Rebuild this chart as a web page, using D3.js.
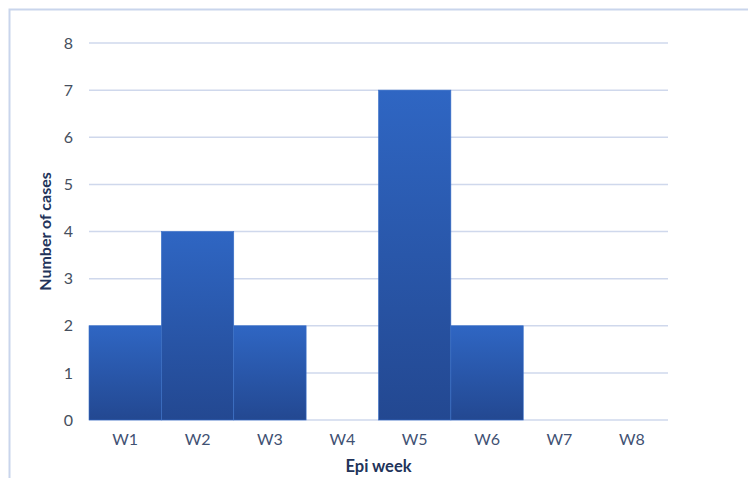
<!DOCTYPE html>
<html>
<head>
<meta charset="utf-8">
<script src="https://cdn.jsdelivr.net/npm/d3@7"></script>
<style>
  body { margin: 0; background: #fff; }
  svg { display: block; }
</style>
</head>
<body>
<svg id="chart" viewBox="0 0 748 478" width="748" height="478"></svg>
<script>
// Data
const weeks = ["W1", "W2", "W3", "W4", "W5", "W6", "W7", "W8"];
const cases = [2, 4, 2, 0, 7, 2, 0, 0];
const yTicks = [0, 1, 2, 3, 4, 5, 6, 7, 8];

const svg = d3.select("#chart");
const font = "Lato, 'Open Sans', sans-serif";

// outer frame (only top and left visible in the crop)
svg.append("rect")
    .attr("x", 9.5).attr("y", 9.5)
    .attr("width", 760).attr("height", 500)
    .attr("fill", "#fff")
    .attr("stroke", "#c9d5ec")
    .attr("stroke-width", 2);

const margin = { left: 89, right: 80, top: 43, bottom: 58 };
const width = 748, height = 478;

const x = d3.scaleBand()
    .domain(weeks)
    .range([margin.left, width - margin.right])
    .padding(0);

const y = d3.scaleLinear()
    .domain([0, 8])
    .range([height - margin.bottom, margin.top]);

// bar gradient
const defs = svg.append("defs");
const grad = defs.append("linearGradient")
    .attr("id", "barGrad")
    .attr("x1", 0).attr("y1", 0).attr("x2", 0).attr("y2", 1);
grad.append("stop").attr("offset", "0%").attr("stop-color", "#2f66c3");
grad.append("stop").attr("offset", "100%").attr("stop-color", "#234891");

// gridlines
svg.append("g")
    .selectAll("line")
    .data(yTicks)
    .enter()
    .append("line")
    .attr("x1", x.range()[0])
    .attr("x2", x.range()[1])
    .attr("y1", d => y(d))
    .attr("y2", d => y(d))
    .attr("stroke", "#cfd8ec")
    .attr("stroke-width", 1.5);

// bars
svg.append("g")
    .selectAll("rect")
    .data(weeks.map((w, i) => ({ week: w, value: cases[i] })))
    .enter()
    .append("rect")
    .attr("x", d => x(d.week))
    .attr("y", d => y(d.value))
    .attr("width", x.bandwidth())
    .attr("height", d => y(0) - y(d.value))
    .attr("fill", "url(#barGrad)")
    .attr("stroke", d => d.value > 0 ? "#3a70c8" : "none")
    .attr("stroke-width", 0.6);

// y tick labels
const yAxis = d3.axisLeft(y).tickValues(yTicks).tickSize(0).tickPadding(16);
const gy = svg.append("g")
    .attr("transform", `translate(${margin.left},0)`)
    .call(yAxis);
gy.select(".domain").remove();
gy.selectAll("text")
    .attr("font-family", font)
    .attr("font-size", 16)
    .attr("fill", "#464f5e");

// x tick labels
const xAxis = d3.axisBottom(x).tickSize(0).tickPadding(14);
const gx = svg.append("g")
    .attr("transform", `translate(0,${y(0)})`)
    .call(xAxis);
gx.select(".domain").remove();
gx.selectAll("text")
    .attr("font-family", font)
    .attr("font-size", 16)
    .attr("fill", "#3f5173");

// axis titles
svg.append("text")
    .attr("x", (x.range()[0] + x.range()[1]) / 2)
    .attr("y", 472)
    .attr("text-anchor", "middle")
    .attr("font-family", font)
    .attr("font-size", 16.5)
    .attr("font-weight", "bold")
    .attr("fill", "#22335a")
    .text("Epi week");

svg.append("text")
    .attr("transform", `translate(51,${(y(0) + y(8)) / 2}) rotate(-90)`)
    .attr("text-anchor", "middle")
    .attr("font-family", font)
    .attr("font-size", 16)
    .attr("font-weight", "bold")
    .attr("fill", "#22335a")
    .text("Number of cases");
</script>
</body>
</html>
